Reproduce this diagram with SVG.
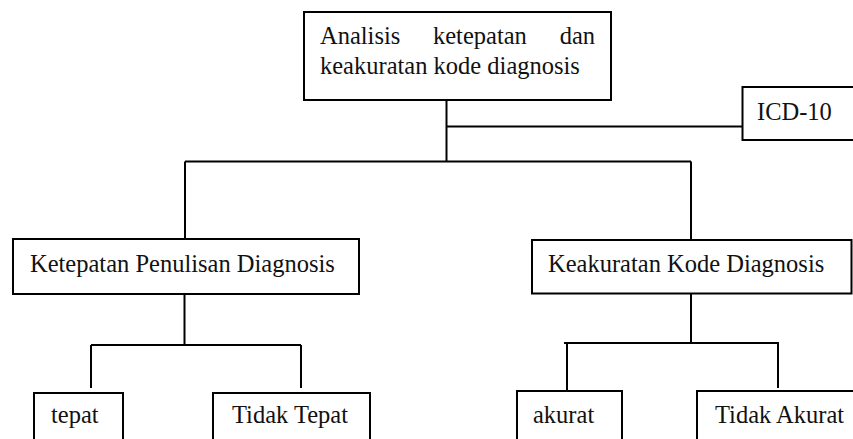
<svg xmlns="http://www.w3.org/2000/svg" width="853" height="439" viewBox="0 0 853 439">
  <style>
    .box { fill: #ffffff; stroke: #000000; stroke-width: 2; }
    .conn { fill: none; stroke: #000000; stroke-width: 2; }
    .lbl { font-family: "Liberation Serif", "Times New Roman", serif; font-size: 24.5px; fill: #111111; }
  </style>
  <rect x="0" y="0" width="853" height="439" fill="#ffffff"/>
  <g id="connectors">
    <path class="conn" d="M446.5 100 V161.5"/>
    <path class="conn" d="M446.5 126.5 H742.5"/>
    <path class="conn" d="M185 161.5 H691"/>
    <path class="conn" d="M185 161.5 V239"/>
    <path class="conn" d="M691 161.5 V240"/>
    <path class="conn" d="M184.5 294 V345"/>
    <path class="conn" d="M91 345 H301"/>
    <path class="conn" d="M91 345 V388"/>
    <path class="conn" d="M301 345 V388"/>
    <path class="conn" d="M691 294 V343"/>
    <path class="conn" d="M564 343 H779"/>
    <path class="conn" d="M567 343 V390"/>
    <path class="conn" d="M778 343 V388"/>
  </g>
  <g id="node-analisis">
    <rect class="box" x="304" y="12" width="307" height="88"/>
    <text class="lbl" x="320" y="44">Analisis</text>
    <text class="lbl" x="433" y="44">ketepatan</text>
    <text class="lbl" x="595" y="44" text-anchor="end">dan</text>
    <text class="lbl" x="320" y="74">keakuratan kode diagnosis</text>
  </g>
  <g id="node-icd10">
    <rect class="box" x="742.5" y="87" width="130" height="53"/>
    <text class="lbl" x="757" y="119.5">ICD-10</text>
  </g>
  <g id="node-ketepatan">
    <rect class="box" x="13" y="239" width="346" height="55"/>
    <text class="lbl" x="30" y="272">Ketepatan Penulisan Diagnosis</text>
  </g>
  <g id="node-keakuratan">
    <rect class="box" x="532" y="240" width="319.5" height="53.5"/>
    <text class="lbl" x="548" y="272">Keakuratan Kode Diagnosis</text>
  </g>
  <g id="node-tepat">
    <rect class="box" x="34" y="393" width="89" height="80"/>
    <text class="lbl" x="51" y="423">tepat</text>
  </g>
  <g id="node-tidak-tepat">
    <rect class="box" x="213" y="393" width="157" height="80"/>
    <text class="lbl" x="232" y="423">Tidak Tepat</text>
  </g>
  <g id="node-akurat">
    <rect class="box" x="517" y="391" width="105" height="80"/>
    <text class="lbl" x="533" y="423">akurat</text>
  </g>
  <g id="node-tidak-akurat">
    <rect class="box" x="697" y="391" width="200" height="80"/>
    <text class="lbl" x="715" y="423">Tidak Akurat</text>
  </g>
</svg>
